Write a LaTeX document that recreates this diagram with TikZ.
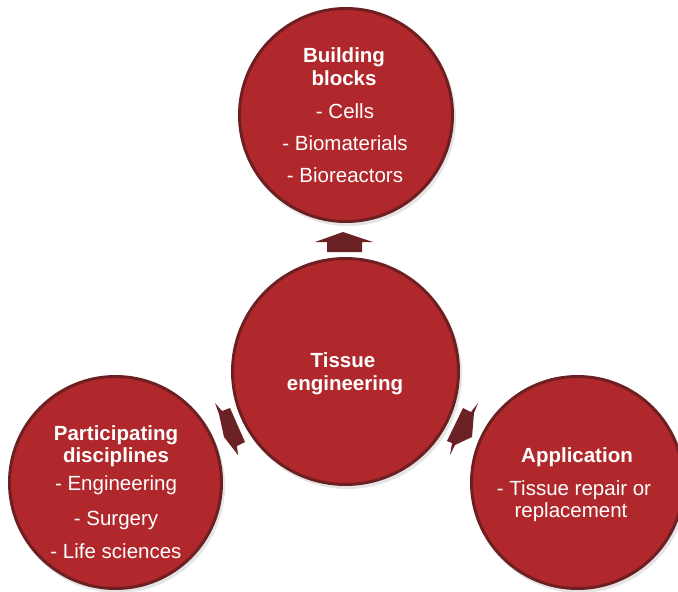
\documentclass[tikz,border=0pt]{standalone}
\usepackage{fontspec}
\setmainfont{Liberation Sans}
\definecolor{tered}{HTML}{B0282B}
\definecolor{teborder}{HTML}{6D1F22}
\definecolor{tearrow}{HTML}{6A2225}
\begin{document}
\begin{tikzpicture}[x=1pt,y=-1pt,
  bubble/.style={circle, fill=tered, draw=teborder, line width=3pt, inner sep=0pt},
  shade/.style={circle, fill=black, fill opacity=0.10, draw=none, inner sep=0pt},
  headtxt/.style={font=\fontsize{20.5}{24}\selectfont\bfseries, text=white, anchor=base, inner sep=0pt},
  itemtxt/.style={font=\fontsize{20.5}{24}\selectfont, text=white, anchor=base, inner sep=0pt},
  arrowshape/.style={fill=tearrow, draw=none}]
\useasboundingbox (0,0) rectangle (678,592);
\fill[white] (0,0) rectangle (678,592);
\begin{scope}
\clip (0,0) rectangle (678,592);
% shadows
\node[shade, minimum size=216pt] (topsh) at (348,118) {};
\node[shade, minimum size=229pt] (midsh) at (347.5,374.5) {};
\node[shade, minimum size=215pt] (leftsh) at (117.5,485.5) {};
\node[shade, minimum size=215pt] (rightsh) at (579.5,485.5) {};
% circles
\node[bubble, minimum size=213pt] (top) at (346,115) {};
\node[bubble, minimum size=226pt] (mid) at (345.5,371.5) {};
\node[bubble, minimum size=212pt] (left) at (115.5,482.5) {};
\node[bubble, minimum size=212pt] (right) at (577.5,482.5) {};
\end{scope}
% arrows
\fill[arrowshape] (343,232) -- (315,242) -- (327,242) -- (327,252) -- (362,252) -- (362,242) -- (373,242) -- cycle;
\fill[arrowshape] (215,403) -- (222,411) -- (230,408) -- (245,442) -- (237,446) -- (238,455) -- (224,437) -- (219,414) -- cycle;
\fill[arrowshape] (478,403) -- (474,413) -- (472,437) -- (455,445) -- (450,455) -- (452,443) -- (447,441) -- (463,408) -- (471,412) -- cycle;
% top texts
\node[headtxt] (t1) at (344,62) {Building};
\node[headtxt] (t2) at (344,85) {blocks};
\node[itemtxt] (t3) at (345,118) {- Cells};
\node[itemtxt] (t4) at (345,150) {- Biomaterials};
\node[itemtxt] (t5) at (345,182) {- Bioreactors};
% center texts
\node[headtxt] (m1) at (343,367) {Tissue};
\node[headtxt] (m2) at (345,390) {engineering};
% left texts
\node[headtxt] (l1) at (116,440) {Participating};
\node[headtxt] (l2) at (116,462) {disciplines};
\node[itemtxt] (l3) at (116,490) {- Engineering};
\node[itemtxt] (l4) at (116,525) {- Surgery};
\node[itemtxt] (l5) at (116,558) {- Life sciences};
% right texts
\node[headtxt] (r1) at (577,462) {Application};
\node[itemtxt] (r2) at (574,495) {- Tissue repair or};
\node[itemtxt] (r3) at (571,517) {replacement};
\end{tikzpicture}
\end{document}
